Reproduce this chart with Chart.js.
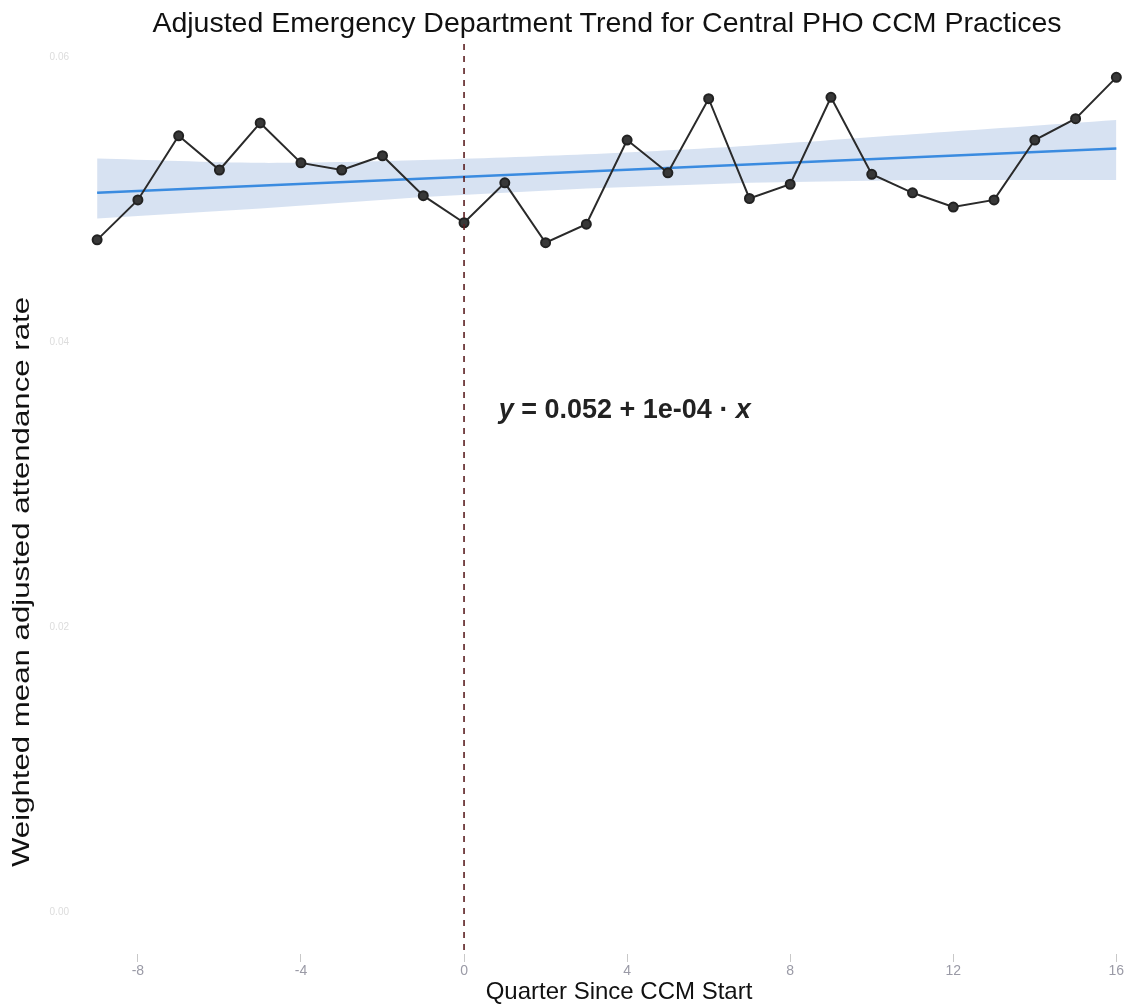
<!DOCTYPE html>
<html lang="en">
<head>
    <meta charset="UTF-8">
    <title>Adjusted Emergency Department Trend</title>
    <style>
        * {
            margin: 0;
            padding: 0;
            box-sizing: border-box;
        }

        body {
            background: #ffffff;
            font-family: "Liberation Sans", Arial, sans-serif;
        }

        .wrap {
            position: relative;
            width: 1131px;
            height: 1008px;
        }

        .chart-title {
            position: absolute;
            top: 6px;
            left: 0;
            width: 1214px;
            text-align: center;
            font-size: 28.5px;
            color: #111;
        }
    </style>
    <script src="https://cdn.jsdelivr.net/npm/chart.js"></script>
</head>
<body>
    <div class="wrap">
        <canvas id="edChart" width="1131" height="1008"></canvas>
        <div class="chart-title">Adjusted Emergency Department Trend for Central PHO CCM Practices</div>
    </div>

    <script>
        // quarter since CCM start and weighted mean adjusted rate
        const quarters = [-9, -8, -7, -6, -5, -4, -3, -2, -1, 0, 1, 2, 3, 4, 5, 6, 7, 8, 9, 10, 11, 12, 13, 14, 15, 16];
        const rates = [0.0472, 0.0500, 0.0545, 0.0521, 0.0554, 0.0526, 0.0521, 0.0531, 0.0503, 0.0484,
                       0.0512, 0.0470, 0.0483, 0.0542, 0.0519, 0.0571, 0.0501, 0.0511, 0.0572, 0.0518,
                       0.0505, 0.0495, 0.0500, 0.0542, 0.0557, 0.0586];

        // fitted trend line (ends) and its confidence band
        const trendX = [-9, 16];
        const trendY = [0.0505, 0.0536];
        const bandX = [-9, -5, -1, 3, 7, 11, 16];
        const bandUpper = [0.0529, 0.0526, 0.0528, 0.0532, 0.0538, 0.0546, 0.0556];
        const bandLower = [0.0487, 0.0494, 0.0502, 0.0508, 0.0512, 0.0514, 0.0514];

        const yTicks = [0, 0.02, 0.04, 0.06];
        const xTicks = [-8, -4, 0, 4, 8, 12, 16];
        const startQuarter = 0;
        const yTitle = 'Weighted mean adjusted attendance rate';
        const xTitle = 'Quarter Since CCM Start';

        const pts = (xs, ys) => xs.map((x, i) => ({ x: x, y: ys[i] }));

        // dashed vertical line at CCM start + axis titles
        const startLine = {
            id: 'startLine',
            afterDatasetsDraw(chart) {
                const { ctx, chartArea, scales } = chart;
                const px = scales.x.getPixelForValue(startQuarter);
                ctx.save();
                ctx.strokeStyle = '#5b1f22';
                ctx.lineWidth = 1.6;
                ctx.setLineDash([6, 6]);
                ctx.beginPath();
                ctx.moveTo(px, chartArea.top + 8);
                ctx.lineTo(px, chartArea.bottom);
                ctx.stroke();
                ctx.restore();

                ctx.save();
                ctx.translate(22, 582);
                ctx.rotate(-Math.PI / 2);
                ctx.scale(1.3, 1);
                ctx.font = '24px "Liberation Sans", Arial';
                ctx.fillStyle = '#111';
                ctx.textAlign = 'center';
                ctx.textBaseline = 'middle';
                ctx.fillText(yTitle, 0, 0);
                ctx.restore();

                ctx.save();
                ctx.font = '24px "Liberation Sans", Arial';
                ctx.fillStyle = '#111';
                ctx.textAlign = 'center';
                ctx.textBaseline = 'middle';
                ctx.fillText(xTitle, 619, 992);
                ctx.restore();
            }
        };

        // regression equation label
        const equation = {
            id: 'equation',
            afterDraw(chart) {
                const { ctx, scales } = chart;
                let px = scales.x.getPixelForValue(0.85);
                const py = scales.y.getPixelForValue(0.0352);
                const parts = [
                    ['italic bold 27px "Liberation Sans", Arial', 'y'],
                    ['bold 27px "Liberation Sans", Arial', ' = 0.052 + 1e-04 \u00b7 '],
                    ['italic bold 27px "Liberation Sans", Arial', 'x']
                ];
                ctx.save();
                ctx.fillStyle = '#222';
                ctx.textBaseline = 'middle';
                ctx.textAlign = 'left';
                parts.forEach(p => {
                    ctx.font = p[0];
                    ctx.fillText(p[1], px, py);
                    px += ctx.measureText(p[1]).width;
                });
                ctx.restore();
            }
        };

        new Chart(document.getElementById('edChart'), {
            type: 'scatter',
            data: {
                datasets: [
                    {
                        data: pts(bandX, bandLower),
                        showLine: true,
                        borderWidth: 0,
                        pointRadius: 0,
                        fill: false,
                        order: 3
                    },
                    {
                        data: pts(bandX, bandUpper),
                        showLine: true,
                        borderWidth: 0,
                        pointRadius: 0,
                        tension: 0.3,
                        backgroundColor: 'rgba(175, 198, 230, 0.5)',
                        fill: '-1',
                        order: 2
                    },
                    {
                        data: pts(trendX, trendY),
                        showLine: true,
                        borderColor: '#3a8be0',
                        borderWidth: 2.5,
                        pointRadius: 0,
                        order: 1
                    },
                    {
                        data: pts(quarters, rates),
                        showLine: true,
                        borderColor: '#2a2a2a',
                        borderWidth: 2,
                        pointRadius: 4.5,
                        pointBackgroundColor: '#383838',
                        pointBorderColor: '#222',
                        order: 0
                    }
                ]
            },
            options: {
                responsive: false,
                animation: false,
                layout: { padding: { top: 36, right: 5, left: 0, bottom: 0 } },
                plugins: {
                    legend: { display: false },
                    tooltip: { enabled: false }
                },
                scales: {
                    x: {
                        type: 'linear',
                        min: -9.42,
                        max: 16.2,
                        afterBuildTicks: s => { s.ticks = xTicks.map(v => ({ value: v })); },
                        afterFit: s => { s.height = 54; },
                        grid: { display: true, drawOnChartArea: false, color: '#c8c8c8', tickLength: 8 },
                        border: { display: false },
                        ticks: { color: '#9a9aa6', font: { size: 14 }, padding: 1 },
                        title: { display: false }
                    },
                    y: {
                        min: -0.0029,
                        max: 0.0615,
                        afterBuildTicks: s => { s.ticks = yTicks.map(v => ({ value: v })); },
                        afterFit: s => { s.width = 80; },
                        grid: { display: false },
                        border: { display: false },
                        ticks: { color: '#dcdcdc', font: { size: 10 }, callback: v => v.toFixed(2) },
                        title: { display: false }
                    }
                }
            },
            plugins: [startLine, equation]
        });
    </script>
</body>
</html>
